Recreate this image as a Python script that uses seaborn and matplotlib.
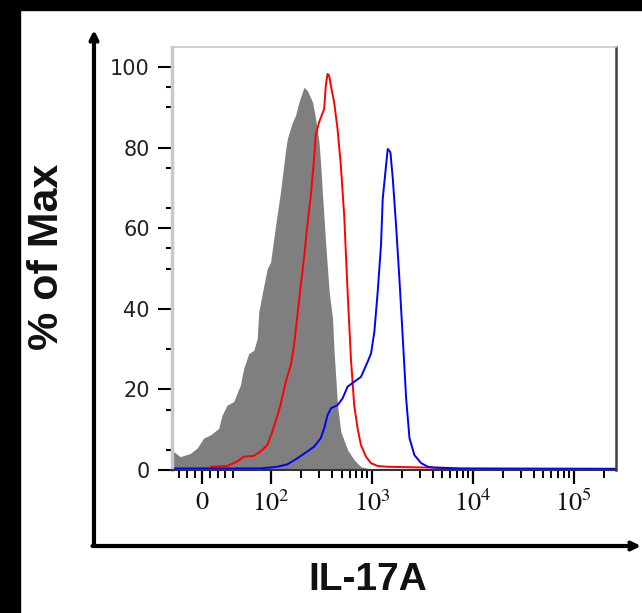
import matplotlib
matplotlib.use('Agg')
import matplotlib.pyplot as plt
from matplotlib.patches import Rectangle
import pandas as pd
import seaborn as sns

# IL-17A histograms, x in fluorescence units, y in % of max
ctrl_x = [-39.5, -37.6, -28.8, -15.7, -6.9, 1.7, 10.5, 21.3, 25.8, 32.3,
          41.0, 49.7, 53.6, 60.2, 67.5, 72.9, 75.7, 84.9, 91.8, 99,
          111, 124, 140, 145, 163, 175, 189, 212, 229, 258,
          277, 299, 311, 324, 349, 377, 407, 422, 456, 492,
          574, 667, 778, 908, 1100, 262144]
ctrl_y = [4.6, 4.6, 3.3, 4.1, 5.4, 7.9, 8.7, 10.3, 13.6, 16.1,
          17.0, 21.1, 25.2, 28.9, 29.7, 32.6, 39.3, 45.8, 50.0, 51.6,
          60.7, 69.0, 79.7, 82.2, 86.3, 88.0, 91.3, 95.0, 94.2, 91.3,
          87.2, 81.4, 75.6, 68.2, 55.8, 44.2, 37.6, 29.3, 16.1, 9.5,
          5.0, 2.5, 0.8, 0.4, 0, 0]

red_x = [10.5, 32.3, 45.4, 53.6, 67.5, 78.7, 91.8, 103, 111, 124,
         140, 157, 169, 175, 189, 197, 212, 229, 248, 267,
         277, 299, 336, 349, 363, 377, 392, 422, 456, 492,
         531, 574, 619, 667, 721, 778, 873, 979, 1140, 1435, 6000]
red_y = [0.8, 1.0, 2.1, 3.3, 3.5, 4.6, 6.2, 9.5, 12.0, 16.1,
         21.9, 26.0, 31.0, 34.3, 41.7, 45.8, 52.5, 60.7, 68.2, 77.2,
         83.0, 86.3, 89.6, 95.4, 98.3, 97.9, 95.4, 91.3, 84.7, 75.6,
         63.2, 44.2, 27.7, 16.1, 10.3, 6.2, 3.3, 1.7, 1.0, 0.8, 0.5]

blue_x = [-39.5, 78.7, 115, 145, 182, 229, 267, 311, 336, 363,
          392, 456, 512, 574, 667, 778, 908, 979, 1057, 1140,
          1230, 1279, 1380, 1435, 1524, 1610, 1734, 1871, 2023, 2182,
          2355, 2636, 3076, 3589, 4170, 7690, 262144]
blue_y = [0.4, 0.4, 0.8, 1.4, 2.9, 4.6, 5.8, 7.9, 10.3, 13.6,
          15.3, 16.1, 17.8, 20.7, 21.9, 23.1, 26.9, 28.9, 34.3, 44.2,
          55.8, 67.3, 75.6, 79.7, 78.9, 72.3, 60.7, 47.5, 32.6, 17.8,
          7.9, 3.7, 1.7, 0.8, 0.6, 0.4, 0.3]

x_ticks = [0, 1e2, 1e3, 1e4, 1e5]
x_ticklabels = ['0', r'$10^{2}$', r'$10^{3}$', r'$10^{4}$', r'$10^{5}$']
x_minor = [-30, -20, -10, 10, 20, 30, 40,
           200, 300, 400, 500, 600, 700, 800, 900,
           2000, 3000, 4000, 5000, 6000, 7000, 8000, 9000,
           20000, 30000, 40000, 50000, 60000, 70000, 80000, 90000, 200000]
y_ticks = [0, 20, 40, 60, 80, 100]
y_minor = [5, 15, 30, 50, 55, 65, 75, 90, 95]

sns.set_style('white')
plt.rcParams['mathtext.fontset'] = 'stix'

fig = plt.figure(figsize=(6.42, 6.13), dpi=100)
ax = fig.add_axes([172 / 642, 1 - 470 / 613, 444 / 642, 423 / 613])

ax.fill_between(ctrl_x, ctrl_y, 0, color='#7f7f7f', linewidth=0)
red = pd.DataFrame({'x': red_x, 'y': red_y})
blue = pd.DataFrame({'x': blue_x, 'y': blue_y})
sns.lineplot(data=red, x='x', y='y', color='#ff0000', linewidth=1.4, estimator=None, sort=False, ax=ax)
sns.lineplot(data=blue, x='x', y='y', color='#0000ff', linewidth=1.4, estimator=None, sort=False, ax=ax)

ax.set_xscale('symlog', linthresh=50, linscale=0.342)
ax.set_xlim(-39.5, 262144)
ax.set_ylim(0, 105)

ax.set_xticks(x_ticks)
ax.set_xticklabels(x_ticklabels, fontsize=19, family='STIXGeneral', color='#111111')
ax.set_xticks(x_minor, minor=True)
ax.set_yticks(y_ticks)
ax.set_yticklabels([str(v) for v in y_ticks], fontsize=15, family='DejaVu Sans', color='#222222')
ax.set_yticks(y_minor, minor=True)
for t, v in zip(ax.yaxis.get_major_ticks(), y_ticks):
    if v in (60, 100):
        t.tick1line.set_visible(False)

ax.tick_params(axis='x', which='major', bottom=True, length=10, width=1.6, color='black', pad=5)
ax.tick_params(axis='x', which='minor', bottom=True, length=6, width=1.4, color='black')
ax.tick_params(axis='y', which='major', left=True, length=10, width=1.5, color='black', pad=6)
ax.tick_params(axis='y', which='minor', left=True, length=4, width=1.5, color='black')

ax.spines['left'].set_color('#c8c8c8')
ax.spines['left'].set_linewidth(2.5)
ax.spines['top'].set_color('#c8c8c8')
ax.spines['top'].set_linewidth(1.2)
ax.spines['right'].set_color('#404040')
ax.spines['right'].set_linewidth(1.8)
ax.spines['bottom'].set_color('#333333')
ax.spines['bottom'].set_linewidth(1.5)

ax.set_ylabel('% of Max', fontsize=31, fontweight='bold', family='Liberation Sans', color='#111111')
ax.yaxis.set_label_coords(-0.2365, 0.504)
ax.set_xlabel('IL-17A', fontsize=28, fontweight='bold', family='Liberation Sans', color='#111111')
ax.xaxis.set_label_coords(0.44, -0.218)

# hand-drawn axis arrows around the plot
ax.annotate('', xy=(94, 613 - 30), xytext=(94, 613 - 546), xycoords='figure pixels',
            textcoords='figure pixels',
            arrowprops=dict(arrowstyle='->,head_length=0.5,head_width=0.25', lw=3, color='black',
                            shrinkA=0, shrinkB=0))
ax.annotate('', xy=(641, 613 - 546), xytext=(92.5, 613 - 546), xycoords='figure pixels',
            textcoords='figure pixels',
            arrowprops=dict(arrowstyle='->,head_length=0.5,head_width=0.25', lw=3, color='black',
                            shrinkA=0, shrinkB=0))

# black frame edges from the source image
fig.patches.append(Rectangle((0, 1 - 10 / 613), 1, 10 / 613, transform=fig.transFigure, color='black'))
fig.patches.append(Rectangle((0, 0), 20 / 642, 1, transform=fig.transFigure, color='black'))

fig.savefig('out.png', dpi=100)
